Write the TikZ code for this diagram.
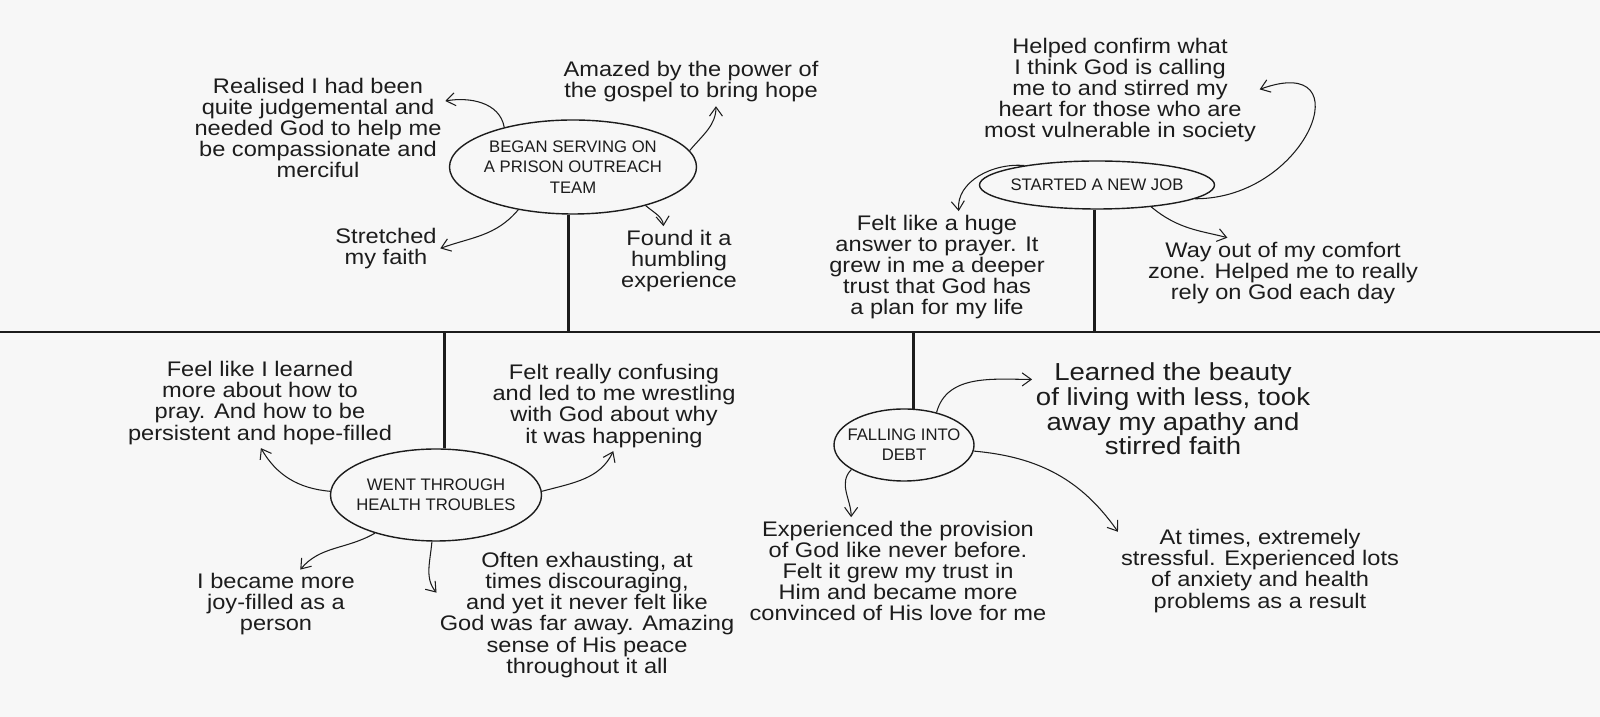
\documentclass[tikz,border=0pt]{standalone}
\usepackage{fontspec}
\usepackage{xcolor}
\usepackage{tikz}
\usetikzlibrary{shapes.geometric, arrows.meta}
\newfontfamily\handfont{Liberation Sans}[FakeStretch=1.12]
\newfontfamily\capsfont{Liberation Sans}
\definecolor{ink}{HTML}{1C1C1C}
\definecolor{paper}{HTML}{F7F7F7}

\begin{document}
\begin{tikzpicture}[x=0.2mm, y=0.2mm, >={Straight Barb[length=1.8mm,width=2.6mm]}, color=ink,
    event/.style={draw, ellipse, line width=0.8pt, inner xsep=-6mm, inner ysep=0pt, align=center, font=\capsfont\fontsize{9.5}{11.5}\selectfont},
    note/.style={align=center, inner sep=1pt, font=\handfont\fontsize{12}{12}\selectfont},
    link/.style={->, line width=0.6pt, shorten >=1pt},
    stem/.style={line width=1.6pt}]
    \fill[paper] (0,0) rectangle (1600,717);
    \useasboundingbox (0,0) rectangle (1600,717);

    \coordinate (tl-w) at (0,385);
    \coordinate (tl-e) at (1600,385);
    \draw[line width=1.2pt] (tl-w) -- (tl-e);

    \node[event, minimum width=49.4mm, minimum height=18.8mm] (prison) at (573,550) {BEGAN SERVING ON\\A PRISON OUTREACH\\TEAM};
    \node[event, minimum width=47mm, minimum height=9.6mm] (newjob) at (1097,532) {STARTED A NEW JOB};
    \node[event, minimum width=42.2mm, minimum height=18.4mm] (health) at (436,222) {WENT THROUGH\\HEALTH TROUBLES};
    \node[event, minimum width=28mm, minimum height=14.4mm] (debt) at (904,272) {FALLING INTO\\DEBT};

    \draw[stem] (prison.265) -- (prison.265 |- tl-w);
    \draw[stem] (newjob.265) -- (newjob.265 |- tl-w);
    \draw[stem] (health.80) -- (health.80 |- tl-w);
    \draw[stem] (debt.75) -- (debt.75 |- tl-w);

    \node[note] (realised) at (318,589) {Realised I had been\\quite judgemental and\\needed God to help me\\be compassionate and\\merciful};
    \node[note] (amazed) at (691,635) {Amazed by the power of\\the gospel to bring hope};
    \node[note] (stretched) at (386,468) {Stretched\\my faith};
    \node[note] (humbling) at (679,456) {Found it a\\humbling\\experience};
    \node[note] (confirm) at (1120,627) {Helped confirm what\\I think God is calling\\me to and stirred my\\heart for those who are\\most vulnerable in society};
    \node[note] (answer) at (937,450) {Felt like a huge\\answer to prayer. It\\grew in me a deeper\\trust that God has\\a plan for my life};
    \node[note] (comfort) at (1283,444) {Way out of my comfort\\zone. Helped me to really\\rely on God each day};
    \node[note] (pray) at (260,314) {Feel like I learned\\more about how to\\pray. And how to be\\persistent and hope-filled};
    \node[note] (confusing) at (614,311) {Felt really confusing\\and led to me wrestling\\with God about why\\it was happening};
    \node[note] (joyful) at (276,113) {I became more\\joy-filled as a\\person};
    \node[note] (exhausting) at (587,102) {Often exhausting, at\\times discouraging,\\and yet it never felt like\\God was far away. Amazing\\sense of His peace\\throughout it all};
    \node[note, font=\handfont\fontsize{14}{12.5}\selectfont] (beauty) at (1173,308) {Learned the beauty\\of living with less, took\\away my apathy and\\stirred faith};
    \node[note] (provision) at (898,146) {Experienced the provision\\of God like never before.\\Felt it grew my trust in\\Him and became more\\convinced of His love for me};
    \node[note] (stressful) at (1260,146) {At times, extremely\\stressful. Experienced lots\\of anxiety and health\\problems as a result};

    \draw[link] (prison.150) to[out=100, in=10] (realised.12);
    \draw[link] (prison.8) to[out=50, in=-90] (amazed.-42);
    \draw[link] (prison.218) to[out=-130, in=20] (stretched.east);
    \draw[link] (prison.-28) to[out=-40, in=95] (humbling.115);
    \draw[link] (newjob.165) to[out=175, in=95] (answer.68);
    \draw[link] (newjob.-8) to[out=0, in=20, looseness=2.3] (confirm.east);
    \draw[link, shorten >=5pt] (newjob.-22) to[out=-40, in=165] (comfort.145);
    \draw[link] (health.178) to[out=175, in=-60] (pray.south);
    \draw[link] (health.2) to[out=15, in=-115] (confusing.south);
    \draw[link] (health.212) to[out=-150, in=50] (joyful.55);
    \draw[link] (health.265) to[out=-95, in=130] (exhausting.172);
    \draw[link] (debt.45) to[out=75, in=180] (beauty.168);
    \draw[link] (debt.205) to[out=-135, in=90] (provision.132);
    \draw[link] (debt.-5) to[out=-5, in=125] (stressful.165);
\end{tikzpicture}
\end{document}
